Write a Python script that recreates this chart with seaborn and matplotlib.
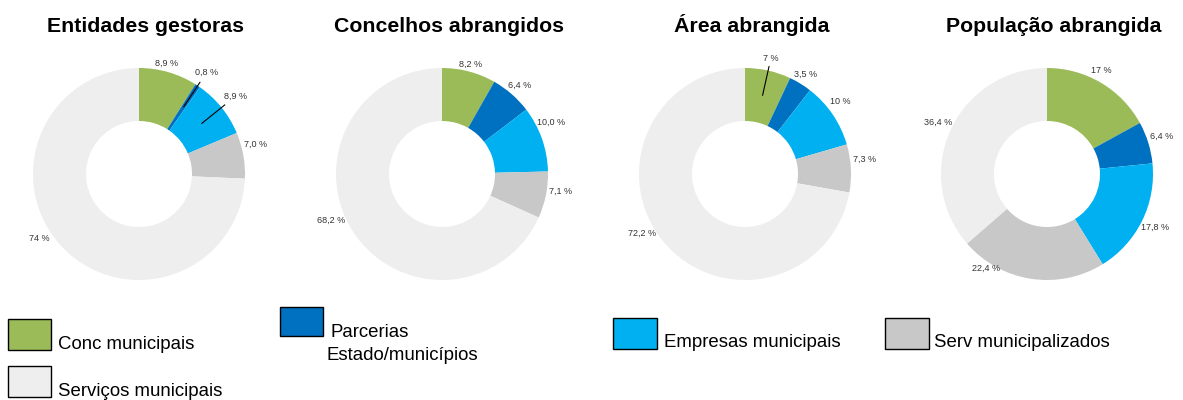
import numpy as np
import matplotlib
matplotlib.use("Agg")
import matplotlib.pyplot as plt
import seaborn as sns
from matplotlib.patches import Rectangle

# ---------------- data ----------------
categories = ["Conc municipais", "Parcerias\nEstado/municípios", "Empresas municipais",
              "Serv municipalizados", "Serviços municipais"]
titles = ["Entidades gestoras", "Concelhos abrangidos", "Área abrangida", "População abrangida"]
entidades = [8.9, 0.8, 8.9, 7.0, 74.0]
concelhos = [8.2, 6.4, 10.0, 7.1, 68.2]
area = [7.0, 3.5, 10.0, 7.3, 72.2]
populacao = [17.0, 6.4, 17.8, 22.4, 36.4]
labels_entidades = ["8,9 %", "0,8 %", "8,9 %", "7,0 %", "74 %"]
labels_concelhos = ["8,2 %", "6,4 %", "10,0 %", "7,1 %", "68,2 %"]
labels_area = ["7 %", "3,5 %", "10 %", "7,3 %", "72,2 %"]
labels_populacao = ["17 %", "6,4 %", "17,8 %", "22,4 %", "36,4 %"]

series = [entidades, concelhos, area, populacao]
series_labels = [labels_entidades, labels_concelhos, labels_area, labels_populacao]

# ---------------- style / layout ----------------
sns.set_theme(style="white")
plt.rcParams["font.family"] = ["Liberation Sans", "DejaVu Sans"]
palette = sns.color_palette(["#9BBB59", "#0070C0", "#00B0F0", "#C8C8C8", "#EEEEEE"])

W, H = 1183, 400
fig = plt.figure(figsize=(W / 100, H / 100), dpi=100)
fig.patch.set_facecolor("white")

R_PX = 106
centers_x = [139, 442, 745, 1047]
center_y = 174
half = 1.5
# label placement tweaks (style only)
leaders = [[False, True, True, False, False],
           [False] * 5,
           [True, False, False, False, False],
           [False] * 5]
label_shift_deg = [[2, 0, 0, 4, -11],
                   [0, 0, 6, 3, -10],
                   [0, 0, 3, 4, -10],
                   [3, 1, 0, -24, -1]]

for i, (vals, labs, title) in enumerate(zip(series, series_labels, titles)):
    cx = centers_x[i]
    side = 2 * half * R_PX
    ax = fig.add_axes([(cx - side / 2) / W, (H - center_y - side / 2) / H, side / W, side / H])
    wedges, _ = ax.pie(vals, colors=palette, startangle=90, counterclock=False, radius=1,
                       wedgeprops=dict(width=0.5, edgecolor="none", linewidth=0))
    ax.set_xlim(-half, half)
    ax.set_ylim(-half, half)
    ax.set_aspect("equal")
    ax.axis("off")
    for w, lab, lead, sh in zip(wedges, labs, leaders[i], label_shift_deg[i]):
        mid = np.deg2rad((w.theta1 + w.theta2) / 2)
        c, s = np.cos(mid), np.sin(mid)
        if lead:
            ax.plot([0.76 * c, 1.04 * c], [0.76 * s, 1.04 * s], color="black", lw=0.8)
            r = 1.04 + 0.12 * abs(c) + 0.05 * abs(s)
        else:
            r = 1.0 + 0.13 * abs(c) + 0.04 * abs(s)
        a = mid + np.deg2rad(sh)
        ax.text(r * np.cos(a), r * np.sin(a), lab, ha="center", va="center",
                fontsize=6.5, color="#333333")
    ax.text(0.065, (center_y - 32) / R_PX, title, ha="center", va="baseline",
            fontsize=15.3, fontweight="bold", color="black")

# ---------------- legend ----------------
legend_boxes = [(8, 319, 51, 350), (280, 307, 323, 336), (613, 318, 657, 349),
                (885, 318, 929, 349), (8, 366, 51, 397)]
legend_text_pos = [(58, 349), (330, 337), (664, 347), (934, 347), (58, 396)]

for name, col, (x0, y0, x1, y1), (tx, ty) in zip(categories, palette, legend_boxes, legend_text_pos):
    fig.add_artist(Rectangle((x0 / W, 1 - y1 / H), (x1 - x0) / W, (y1 - y0) / H,
                             transform=fig.transFigure, facecolor=col, edgecolor="black", lw=1.0))
    for k, line in enumerate(name.split("\n")):
        fig.text((tx - 4 * k) / W, 1 - (ty + 23 * k) / H, line, ha="left", va="baseline",
                 fontsize=13.4, color="black")

fig.savefig("out.png", dpi=100)
